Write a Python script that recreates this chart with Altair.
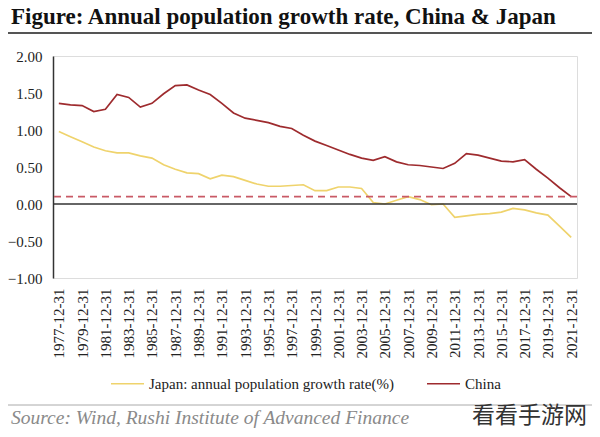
import altair as alt
import pandas as pd

years = list(range(1977, 2022))
dates = [f"{y}-12-31" for y in years]

china = [1.36, 1.34, 1.33, 1.25, 1.28, 1.48, 1.44, 1.31, 1.36, 1.49,
         1.60, 1.61, 1.54, 1.48, 1.36, 1.23, 1.16, 1.13, 1.10, 1.05,
         1.02, 0.93, 0.85, 0.79, 0.73, 0.67, 0.62, 0.59, 0.64, 0.57,
         0.53, 0.52, 0.50, 0.48, 0.55, 0.68, 0.66, 0.62, 0.58, 0.57,
         0.60, 0.47, 0.35, 0.22, 0.10]

japan = [0.98, 0.91, 0.84, 0.77, 0.72, 0.69, 0.69, 0.65, 0.62, 0.53,
         0.47, 0.42, 0.41, 0.34, 0.39, 0.37, 0.32, 0.27, 0.24, 0.24,
         0.25, 0.26, 0.18, 0.18, 0.23, 0.23, 0.21, 0.02, 0.00, 0.05,
         0.10, 0.06, -0.01, 0.00, -0.18, -0.16, -0.14, -0.13, -0.11, -0.06,
         -0.08, -0.12, -0.15, -0.30, -0.45]

japan_label = "Japan: annual population growth rate(%)"
china_label = "China"
ref_level = 0.10
y_ticks = [-1.0, -0.5, 0.0, 0.5, 1.0, 1.5, 2.0]
x_label_values = dates[::2]

title_text = "Figure: Annual population growth rate, China & Japan"
source_text = "Source: Wind, Rushi Institute of Advanced Finance"
watermark_text = "看看手游网"

YELLOW = "#EFD36C"
RED = "#9E2B2E"
SERIF = "Liberation Serif"

df = pd.DataFrame({
    "date": dates * 2,
    "value": japan + china,
    "series": [japan_label] * len(dates) + [china_label] * len(dates),
})

W, H = 524, 222
y_scale = alt.Scale(domain=[-1, 2], nice=False, zero=False)

x_enc = alt.X(
    "date:O",
    scale=alt.Scale(type="point", padding=0.5),
    axis=alt.Axis(
        values=x_label_values, labelAngle=-90, domain=False, ticks=False,
        labelPadding=10, labelFont=SERIF, labelFontSize=15, labelColor="#222",
        title=None, labelOverlap=False,
    ),
)
y_enc = alt.Y(
    "value:Q",
    scale=y_scale,
    axis=alt.Axis(
        values=y_ticks, format=".2f", ticks=False, grid=False,
        domainColor="#333", domainWidth=1.5, labelPadding=11,
        labelFont=SERIF, labelFontSize=15, labelColor="#222", title=None,
        labelOverlap=False,
    ),
)

lines = alt.Chart(df).mark_line(strokeWidth=1.7).encode(
    x=x_enc,
    y=y_enc,
    color=alt.Color(
        "series:N",
        scale=alt.Scale(domain=[japan_label, china_label], range=[YELLOW, RED]),
        legend=alt.Legend(
            orient="none", legendX=57, legendY=310, direction="horizontal",
            title=None, symbolType="stroke", symbolSize=1089,
            symbolStrokeWidth=1.7, labelFont=SERIF, labelFontSize=15,
            labelColor="#222", columnPadding=29, labelOffset=4,
            labelLimit=0,
        ),
    ),
    order=alt.Order("series:N"),
)

zero_rule = alt.Chart(pd.DataFrame({"v": [0.0]})).mark_rule(
    color="#333", strokeWidth=1.5
).encode(y=alt.Y("v:Q", scale=y_scale, axis=None))

ref_rule = alt.Chart(pd.DataFrame({"v": [ref_level]})).mark_rule(
    color="#C95A66", strokeWidth=1.6, strokeDash=[7, 5]
).encode(y=alt.Y("v:Q", scale=y_scale, axis=None))

title_mark = alt.Chart(pd.DataFrame({"t": [title_text]})).mark_text(
    align="left", baseline="alphabetic", font=SERIF, fontSize=23,
    fontWeight="bold", color="#111",
).encode(x=alt.value(-42), y=alt.value(-32), text="t:N")

title_line = alt.Chart(pd.DataFrame({"a": [0]})).mark_rule(
    color="#555", strokeWidth=2
).encode(x=alt.value(-45), x2=alt.value(539), y=alt.value(-23))

source_line = alt.Chart(pd.DataFrame({"a": [0]})).mark_rule(
    color="#aaa", strokeWidth=1
).encode(x=alt.value(-45), x2=alt.value(539), y=alt.value(349))

source_mark = alt.Chart(pd.DataFrame({"t": [source_text]})).mark_text(
    align="left", baseline="middle", font=SERIF, fontSize=19.5,
    fontStyle="italic", color="#8a8a8a",
).encode(x=alt.value(-42), y=alt.value(362), text="t:N")

wm_mark = alt.Chart(pd.DataFrame({"t": [watermark_text]})).mark_text(
    align="left", baseline="middle", font="Noto Sans CJK SC", fontSize=23,
    color="#333",
).encode(x=alt.value(419), y=alt.value(360), text="t:N")

chart = alt.layer(
    lines, ref_rule, zero_rule, title_mark, title_line, source_line,
    source_mark, wm_mark,
).resolve_scale(y="shared").resolve_axis(y="independent").properties(
    width=W, height=H,
    autosize=alt.AutoSizeParams(type="none"),
    padding={"left": 45, "top": 48, "right": 15, "bottom": 151},
).configure_view(strokeWidth=0).configure(background="white")

chart.save("out.html", embed_options={"renderer": "svg", "actions": False})
